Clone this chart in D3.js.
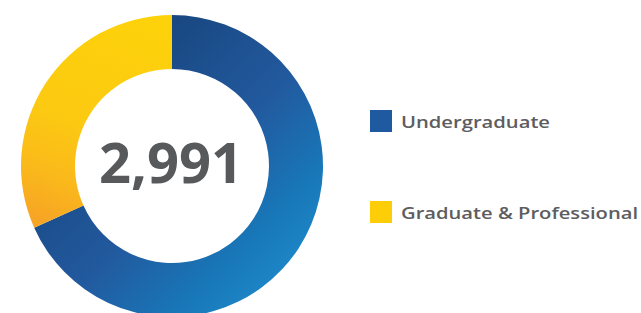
<!DOCTYPE html>
<html lang="en">
<head>
  <meta charset="UTF-8">
  <title>Enrollment Donut</title>
  <style>
    body {
      margin: 0;
      padding: 0;
      background: #fff;
    }
    svg {
      display: block;
    }
  </style>
</head>
<body>

<script src="https://cdnjs.cloudflare.com/ajax/libs/d3/7.8.5/d3.min.js"></script>

<script>
  // Data
  const categories = ['Undergraduate', 'Graduate & Professional'];
  const values = [2043, 948];
  const totalLabel = '2,991';
  const legendColors = ['#1f5aa0', '#fdcd07'];
  const legendWidths = [149, 237]; // text widths measured on the reference

  const width = 641, height = 313;
  const cx = 172, cy = 166;
  const outerR = 151, innerR = 97;

  const svg = d3.select('body').append('svg')
    .attr('width', width)
    .attr('height', height);

  // Gradients for the ring segments
  const defs = svg.append('defs');

  const blue = defs.append('linearGradient')
    .attr('id', 'grad0')
    .attr('gradientUnits', 'userSpaceOnUse')
    .attr('x1', -outerR).attr('y1', -outerR)
    .attr('x2', outerR).attr('y2', outerR);
  [[0, '#12366a'], [0.3, '#1a4a85'], [0.55, '#225a9f'], [0.75, '#1877b8'], [1, '#2398d8']]
    .forEach(s => blue.append('stop').attr('offset', s[0]).attr('stop-color', s[1]));

  const yellow = defs.append('linearGradient')
    .attr('id', 'grad1')
    .attr('gradientUnits', 'userSpaceOnUse')
    .attr('x1', -30).attr('y1', -outerR)
    .attr('x2', -110).attr('y2', 62);
  [[0, '#fdd20a'], [0.55, '#fcc912'], [0.8, '#fab91b'], [1, '#f7a524']]
    .forEach(s => yellow.append('stop').attr('offset', s[0]).attr('stop-color', s[1]));

  const g = svg.append('g')
    .attr('transform', `translate(${cx},${cy})`);

  const pie = d3.pie().sort(null).value(d => d);
  const arc = d3.arc().innerRadius(innerR).outerRadius(outerR);

  g.selectAll('path.slice')
    .data(pie(values))
    .enter().append('path')
    .attr('class', 'slice')
    .attr('d', arc)
    .attr('fill', (d, i) => `url(#grad${i})`);

  // Total in the middle
  g.append('text')
    .attr('x', -1)
    .attr('y', 17)
    .attr('text-anchor', 'middle')
    .attr('textLength', 144)
    .attr('lengthAdjust', 'spacingAndGlyphs')
    .style('font-family', "'Open Sans', sans-serif")
    .style('font-weight', 700)
    .style('font-size', '56px')
    .style('fill', '#58595b')
    .text(totalLabel);

  // Legend
  const legendY = d3.scalePoint()
    .domain(categories)
    .range([121, 212]);

  const legend = svg.selectAll('g.legend')
    .data(categories)
    .enter().append('g')
    .attr('class', 'legend')
    .attr('transform', d => `translate(370,${legendY(d)})`);

  legend.append('rect')
    .attr('x', 0)
    .attr('y', -11)
    .attr('width', 22)
    .attr('height', 22)
    .attr('fill', (d, i) => legendColors[i]);

  legend.append('text')
    .attr('x', 31)
    .attr('y', 6.5)
    .attr('textLength', (d, i) => legendWidths[i])
    .attr('lengthAdjust', 'spacingAndGlyphs')
    .style('font-family', "'Open Sans', sans-serif")
    .style('font-weight', 600)
    .style('font-size', '17px')
    .style('fill', '#5d5d5f')
    .text(d => d);
</script>

</body>
</html>
